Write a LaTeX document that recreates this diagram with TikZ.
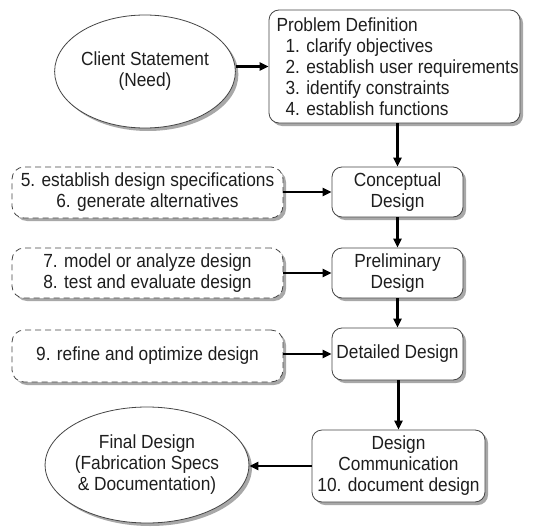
\documentclass[tikz,border=0pt]{standalone}
\usepackage{fontspec}
\setmainfont[FakeStretch=0.91]{Liberation Sans}
\usetikzlibrary{shapes.geometric,shadows,arrows.meta}

\definecolor{edge}{HTML}{454545}
\definecolor{ink}{HTML}{1E1E1E}
\definecolor{shade}{HTML}{A8A8A8}

\tikzset{
  txt/.style={font=\fontsize{19}{21}\selectfont, text=ink, align=center},
  shad/.style={drop shadow={shadow xshift=3pt, shadow yshift=-3pt, fill=shade, opacity=1}},
  stage/.style={txt, shad, draw=edge, line width=0.8pt, fill=white, rounded corners=10pt, inner sep=0pt},
  task/.style={stage, dashed, dash pattern=on 6pt off 4pt, rounded corners=12pt},
  endpoint/.style={txt, shad, ellipse, draw=edge, line width=0.8pt, fill=white, inner sep=0pt},
  flow/.style={line width=2.3pt, black, -{Triangle[length=9pt,width=8pt]}}
}

\begin{document}
\begin{tikzpicture}[x=1pt,y=-1pt]
\useasboundingbox (0,0) rectangle (551,527);

% start and end of the process
\node[endpoint, minimum width=156pt, minimum height=113pt] (client) at (145,71.5)
  {Client Statement\\(Need)};
\node[endpoint, minimum width=160pt, minimum height=116pt] (final) at (147,465)
  {Final Design\\(Fabrication Specs\\\& Documentation)};

% problem definition with its numbered steps
\node[stage, minimum width=251pt, minimum height=113pt] (prob) at (394.5,66.5)
  {\begin{minipage}{236pt}\raggedright
   \mbox{Problem Definition}\\
   \mbox{\hspace*{9pt}1. clarify objectives}\\
   \mbox{\hspace*{9pt}2. establish user requirements}\\
   \mbox{\hspace*{9pt}3. identify constraints}\\
   \mbox{\hspace*{9pt}4. establish functions}
   \end{minipage}};

% design stages
\node[stage, minimum width=131pt, minimum height=50pt] (concept) at (397.5,192)
  {Conceptual\\Design};
\node[stage, minimum width=131pt, minimum height=50pt] (prelim) at (397.5,273)
  {Preliminary\\Design};
\node[stage, minimum width=131pt, minimum height=52pt] (detail) at (397.5,354)
  {Detailed Design};
\node[stage, minimum width=173pt, minimum height=72pt] (comm) at (398.5,466)
  {Design\\Communication\\10. document design};

% tasks feeding each stage
\node[task, minimum width=271pt, minimum height=51pt] (t56) at (147.5,192.5)
  {5. establish design specifications\\6. generate alternatives};
\node[task, minimum width=271pt, minimum height=50pt] (t78) at (147.5,273)
  {7. model or analyze design\\8. test and evaluate design};
\node[task, minimum width=271pt, minimum height=52pt] (t9) at (147.5,356)
  {9. refine and optimize design};

% connectors
\draw[flow] (client.east |- prob.west) -- (prob.west);
\draw[flow] (prob.south -| concept.north) -- (concept.north);
\draw[flow] (concept.south) -- (prelim.north);
\draw[flow] (prelim.south) -- (detail.north);
\draw[flow] (detail.south -| comm.north) -- (comm.north);
\draw[flow] (t56.east |- concept.west) -- (concept.west);
\draw[flow] (t78.east) -- (prelim.west);
\draw[flow] (t9.east |- detail.west) -- (detail.west);
\draw[flow] (comm.west) -- (final.east |- comm.west);
\end{tikzpicture}
\end{document}
